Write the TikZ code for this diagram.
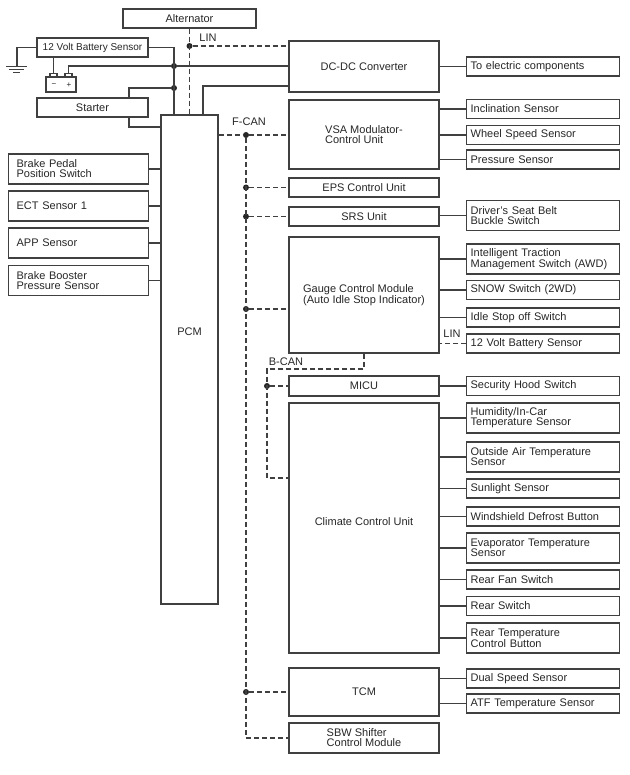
\documentclass[tikz,border=0pt]{standalone}
\usepackage{fontspec}
\setmainfont{Liberation Sans}

\begin{document}
\begin{tikzpicture}[
    x=1pt, y=-1pt,
    font=\fontsize{11}{10}\selectfont,
    every node/.append style={text=black!85},
    box/.style={draw=black!75, line width=1.3pt, inner sep=0pt, align=left},
    unit/.style={box, minimum width=150pt},
    sensor/.style={box, anchor=west, text width=145pt, inner xsep=4pt, minimum height=19pt},
    input/.style={box, anchor=west, text width=124pt, inner xsep=8pt, minimum height=30pt},
    wire/.style={draw=black!75, line width=1.3pt},
    bus/.style={wire, dash pattern=on 5pt off 3pt},
    dot/.style={circle, fill=black!85, inner sep=0pt, minimum size=6pt},
    tag/.style={inner sep=0pt}
  ]
  \useasboundingbox (0,0) rectangle (629,775);

  % power side
  \node[box, minimum width=133pt, minimum height=19pt] (alt) at (189.5,18.5) {Alternator};
  \node[box, minimum width=111pt, minimum height=19pt, font=\fontsize{10}{10}\selectfont] (bsens) at (92.5,47.5) {12 Volt Battery Sensor};
  \node[box, minimum width=111pt, minimum height=19pt] (starter) at (92.5,107.5) {Starter};
  \node[box, minimum width=30pt, minimum height=15pt] (batt) at (61,84.5) {};
  \node[box, minimum width=7pt, minimum height=3pt, anchor=south] (bneg) at (53.5,77) {};
  \node[box, minimum width=7pt, minimum height=3pt, anchor=south] (bpos) at (68.5,77) {};
  \node[tag, font=\fontsize{8}{8}\selectfont] (bminus) at (54,85) {−};
  \node[tag, font=\fontsize{8}{8}\selectfont] (bplus) at (69,85) {+};
  \node[box, minimum width=57pt, minimum height=489pt] (pcm) at (189.5,359.5) {};
  \node[tag] (pcmlbl) at (pcm.center |- 0,332) {PCM};

  % left inputs
  \node[input] (brake) at (8,169) {Brake Pedal\\Position Switch};
  \node[input] (ect) at (8,206) {ECT Sensor 1};
  \node[input] (app) at (8,243) {APP Sensor};
  \node[input] (boost) at (8,280.5) {Brake Booster\\Pressure Sensor};

  % control units
  \node[unit, minimum height=51pt] (dcdc) at (364,66.5) {DC-DC Converter};
  \node[unit, minimum height=69pt] (vsa) at (364,134.5) {VSA Modulator-\\Control Unit};
  \node[unit, minimum height=19pt] (eps) at (364,187.5) {EPS Control Unit};
  \node[unit, minimum height=19pt] (srs) at (364,216.5) {SRS Unit};
  \node[unit, minimum height=116pt] (gauge) at (364,295) {Gauge Control Module\\(Auto Idle Stop Indicator)};
  \node[unit, minimum height=20pt] (micu) at (364,386) {MICU};
  \node[unit, minimum height=250pt] (climate) at (364,528) {};
  \node[tag] (climlbl) at (climate.center |- 0,522) {Climate Control Unit};
  \node[unit, minimum height=48pt] (tcm) at (364,692) {TCM};
  \node[unit, minimum height=30pt] (sbw) at (364,738) {SBW Shifter\\Control Module};

  % right side
  \node[sensor] (toel) at (466,66.5) {To electric components};
  \node[sensor] (incl) at (466,109) {Inclination Sensor};
  \node[sensor] (wheel) at (466,135) {Wheel Speed Sensor};
  \node[sensor] (press) at (466,159.5) {Pressure Sensor};
  \node[sensor, minimum height=30pt] (belt) at (466,215.5) {Driver's Seat Belt\\Buckle Switch};
  \node[sensor, minimum height=30pt] (itm) at (466,259) {Intelligent Traction\\Management Switch (AWD)};
  \node[sensor] (snow) at (466,290) {SNOW Switch (2WD)};
  \node[sensor] (idle) at (466,317.5) {Idle Stop off Switch};
  \node[sensor] (bat2) at (466,343.5) {12 Volt Battery Sensor};
  \node[sensor] (hood) at (466,386) {Security Hood Switch};
  \node[sensor, minimum height=30pt] (humid) at (466,418) {Humidity/In-Car\\Temperature Sensor};
  \node[sensor, minimum height=30pt] (outair) at (466,457) {Outside Air Temperature\\Sensor};
  \node[sensor] (sun) at (466,488.5) {Sunlight Sensor};
  \node[sensor] (defrost) at (466,516.5) {Windshield Defrost Button};
  \node[sensor, minimum height=30pt] (evap) at (466,548) {Evaporator Temperature\\Sensor};
  \node[sensor] (rfan) at (466,579.5) {Rear Fan Switch};
  \node[sensor] (rsw) at (466,606) {Rear Switch};
  \node[sensor, minimum height=30pt] (rtemp) at (466,638) {Rear Temperature\\Control Button};
  \node[sensor] (dual) at (466,678.5) {Dual Speed Sensor};
  \node[sensor] (atf) at (466,703.5) {ATF Temperature Sensor};

  % bus labels
  \node[tag] (linlbl) at (208,38) {LIN};
  \node[tag] (fcanlbl) at (249,122) {F-CAN};
  \node[tag] (bcanlbl) at (286,362) {B-CAN};
  \node[tag] (lin2lbl) at (452,334) {LIN};

  % junctions
  \node[dot] (j1) at (174,66) {};
  \node[dot] (j2) at (174,88) {};
  \node[dot] (linj) at (189.5,46) {};
  \coordinate (gnd) at (17,67);
  \coordinate (sttop) at (129,88);
  \coordinate (stbot) at (129,127);
  \coordinate (dcin) at (203,86);

  % power wiring
  \draw[wire] (bsens.west) -| (gnd);
  \draw[wire, line width=1pt] (6,67) -- (27,67) (9,70) -- (24,70) (13,73) -- (20,73);
  \draw[wire] (bsens.south -| bneg) -- (bneg.north);
  \draw[wire] (bpos.north) |- (j1) -- (j1 -| dcdc.west);
  \draw[wire] (bsens.east) -| (pcm.north -| j1);
  \draw[wire] (starter.north -| sttop) |- (j2);
  \draw[wire] (starter.south -| stbot) -- (stbot) -- (stbot -| pcm.west);
  \draw[wire] (pcm.north -| dcin) |- (dcdc.west |- dcin);
  \draw[bus] (alt.south) -- (pcm.north);
  \draw[bus] (linj) -- (linj -| dcdc.west);

  % sensor wiring
  \foreach \s in {brake,ect,app,boost}
    \draw[wire] (\s.east) -- (\s.east -| pcm.west);
  \foreach \s/\u in {toel/dcdc, incl/vsa, wheel/vsa, press/vsa, belt/srs,
      itm/gauge, snow/gauge, idle/gauge, hood/micu, humid/climate,
      outair/climate, sun/climate, defrost/climate, evap/climate,
      rfan/climate, rsw/climate, rtemp/climate, dual/tcm, atf/tcm}
    \draw[wire] (\s.west) -- (\s.west -| \u.east);
  \draw[bus] (bat2.west) -- (bat2.west -| gauge.east);

  % F-CAN
  \node[dot] (fc1) at (246,135) {};
  \node[dot] (fc2) at (fc1 |- eps.west) {};
  \node[dot] (fc3) at (fc1 |- srs.west) {};
  \node[dot] (fc4) at (246,309) {};
  \node[dot] (fc5) at (fc1 |- tcm.west) {};
  \draw[bus] (pcm.east |- fc1) -- (fc1) -- (fc1 -| vsa.west);
  \draw[bus] (fc1) |- (sbw.west);
  \draw[bus] (fc2) -- (eps.west);
  \draw[bus] (fc3) -- (srs.west);
  \draw[bus] (fc4) -- (fc4 -| gauge.west);
  \draw[bus] (fc5) -- (tcm.west);

  % B-CAN
  \coordinate (bc1) at (267,369);
  \coordinate (bcend) at (267,478);
  \node[dot] (bc2) at (bc1 |- micu.west) {};
  \draw[bus] (gauge.south) |- (bc1) -- (bcend) -- (bcend -| climate.west);
  \draw[bus] (bc2) -- (micu.west);
\end{tikzpicture}
\end{document}
